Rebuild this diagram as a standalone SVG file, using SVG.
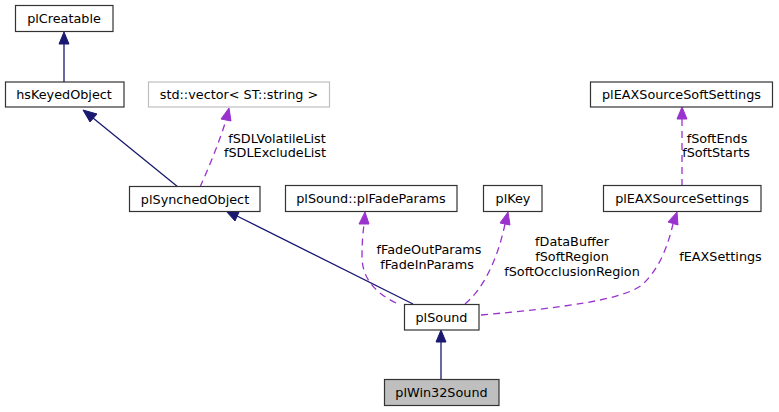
<svg xmlns="http://www.w3.org/2000/svg" width="779" height="412" viewBox="0 0 779 412">
<defs>
<style>
text{font-family:"DejaVu Sans","Liberation Sans",sans-serif;font-size:12.8px;fill:#000}
.node rect{fill:#fff;stroke:#333;stroke-width:1.2}
.node.gray rect{stroke:#bfbfbf}
.node.cur rect{fill:#bfbfbf;stroke:#333}
.nt{text-anchor:middle}
.inh{fill:none;stroke:#191970;stroke-width:1.3}
.use{fill:none;stroke:#9a32cd;stroke-width:1.3;stroke-dasharray:7,5}
.ah{fill:#191970;stroke:#191970}
.ap{fill:#9a32cd;stroke:#9a32cd}
.lbl{text-anchor:middle}
</style>
</defs>
<rect width="779" height="412" fill="#fff"/>
<g id="connectors">
<path class="inh" d="M64,82 V44"/>
<polygon class="ah" points="64,32 59,44 69,44"/>
<path class="inh" d="M178,187 L93,118"/>
<polygon class="ah" points="83,110 90,122 97,114"/>
<path class="use" d="M200,187 C210,165 220,140 226,120"/>
<polygon class="ap" points="229,108 221,119 231,121"/>
<path class="inh" d="M413,304 L237,216"/>
<polygon class="ah" points="226,211 235,221 239,212"/>
<path class="use" d="M396,303 C372,291 362,276 362,256 C362,242 363,233 364,224"/>
<polygon class="ap" points="365,212 359,224 369,224"/>
<path class="use" d="M465,304 C482,290 497,262 505,224"/>
<polygon class="ap" points="508,212 500,223 510,225"/>
<path class="use" d="M481,315 C560,308 625,300 643,284 C660,268 668,245 673,224"/>
<polygon class="ap" points="677,212 668,222 678,225"/>
<path class="use" d="M682,186 V119"/>
<polygon class="ap" points="682,107 677,119 687,119"/>
<path class="inh" d="M441,379 V342"/>
<polygon class="ah" points="441,330 436,342 446,342"/>
<text class="lbl" x="277" y="142.5">fSDLVolatileList</text>
<text class="lbl" x="275" y="157">fSDLExcludeList</text>
<text class="lbl" x="429" y="253.5">fFadeOutParams</text>
<text class="lbl" x="427" y="268.5">fFadeInParams</text>
<text class="lbl" x="572" y="246">fDataBuffer</text>
<text class="lbl" x="572" y="261">fSoftRegion</text>
<text class="lbl" x="572" y="275.5">fSoftOcclusionRegion</text>
<text class="lbl" x="720.5" y="261">fEAXSettings</text>
<text class="lbl" x="717" y="142.5">fSoftEnds</text>
<text class="lbl" x="716" y="157">fSoftStarts</text>
</g>
<g id="plCreatable" class="node"><rect x="15.5" y="5.5" width="97.5" height="26"/><text class="nt" x="64" y="23">plCreatable</text></g>
<g id="hsKeyedObject" class="node"><rect x="5.5" y="82" width="118.5" height="25"/><text class="nt" x="64" y="99">hsKeyedObject</text></g>
<g id="std_vector" class="node gray"><rect x="148.5" y="82" width="181" height="25"/><text class="nt" x="239" y="99">std::vector&lt; ST::string &gt;</text></g>
<g id="plEAXSourceSoftSettings" class="node"><rect x="590.5" y="82" width="182" height="25"/><text class="nt" x="681.5" y="99">plEAXSourceSoftSettings</text></g>
<g id="plSynchedObject" class="node"><rect x="129.5" y="186.5" width="130.5" height="25"/><text class="nt" x="195" y="203.5">plSynchedObject</text></g>
<g id="plFadeParams" class="node"><rect x="285.5" y="185.5" width="171.5" height="26"/><text class="nt" x="371" y="203">plSound::plFadeParams</text></g>
<g id="plKey" class="node"><rect x="483.5" y="185.5" width="58.5" height="26"/><text class="nt" x="513" y="203">plKey</text></g>
<g id="plEAXSourceSettings" class="node"><rect x="603.5" y="185.5" width="157.5" height="26"/><text class="nt" x="682" y="203">plEAXSourceSettings</text></g>
<g id="plSound" class="node"><rect x="404.5" y="304.5" width="74.5" height="25.5"/><text class="nt" x="441.5" y="322">plSound</text></g>
<g id="plWin32Sound" class="node cur"><rect x="384.5" y="379.5" width="114.5" height="26"/><text class="nt" x="441.5" y="397">plWin32Sound</text></g>
</svg>
